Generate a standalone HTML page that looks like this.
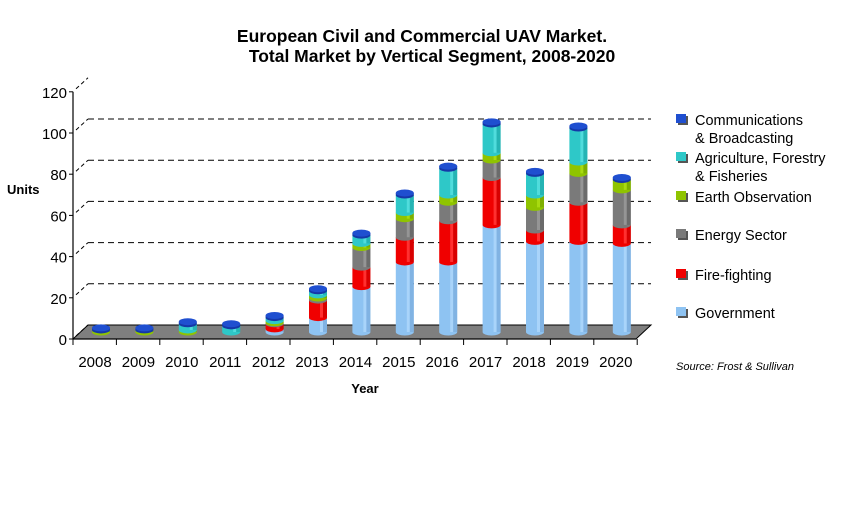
<!DOCTYPE html>
<html><head><meta charset="utf-8"><style>
html,body{margin:0;padding:0;background:#fff;}
svg{display:block;font-family:"Liberation Sans",Arial,sans-serif;}
</style></head><body>
<svg id="chart" width="865" height="527" viewBox="0 0 865 527" xmlns="http://www.w3.org/2000/svg">
<g font-weight="bold" font-size="17.5" text-anchor="middle" fill="#000">
<text x="422" y="42">European Civil and Commercial UAV Market.</text>
<text x="432" y="62">Total Market by Vertical Segment, 2008-2020</text>
</g>
<text x="7" y="194" font-size="13" font-weight="bold">Units</text>
<text x="365" y="393" font-size="13" font-weight="bold" text-anchor="middle">Year</text>
<text x="676" y="370" font-size="11" font-style="italic">Source: Frost &amp; Sullivan</text>
<g id="grid"></g>
<polygon points="73,339 636,339 651,325 88,325" fill="#7f7f7f" stroke="#000" stroke-width="1"/>
<g id="axes"></g>
<g id="bars"></g>
<g id="legend"></g>
</svg>
<script>
const categories=["2008","2009","2010","2011","2012","2013","2014","2015","2016","2017","2018","2019","2020"];
const government=[0,0,0,0,1.5,7,22,34,34,52,44,44,43];
const fireFighting=[0,0,0,0,2.5,8.5,9.5,12,20,23,5.5,19,9];
const energySector=[0,0,0,0,0.5,1,9.5,9,9,8.5,11,14,17];
const earthObservation=[1,1,1,0,1,1.5,2,3,3.5,3.5,6,5.5,5];
const agriculture=[0,0,3,3,1.5,2,4,8.5,13,14,10.5,16.5,0];
const communications=[1,1,1,1,1,1,1,1,1,1,1,1,1];
const yTicks=[0,20,40,60,80,100,120];
const seriesNames=["Government","Fire-fighting","Energy Sector","Earth Observation","Agriculture, Forestry & Fisheries","Communications & Broadcasting"];

const NS="http://www.w3.org/2000/svg";
const PX=2.06, BACK_Y0=325, MID_Y0=332, X0=101, STEP=43.4;
function yBack(v){return BACK_Y0-v*PX;}
function yFront(v){return 339-v*PX;}
function yMid(v){return MID_Y0-v*PX;}
function xC(i){return X0+i*STEP;}
function mk(tag,attrs,parent){const e=document.createElementNS(NS,tag);for(const k in attrs)e.setAttribute(k,attrs[k]);parent.appendChild(e);return e;}

const grid=document.getElementById('grid');
yTicks.forEach(t=>{
  if(t>0&&t<120){const l=mk('line',{x1:88,x2:651,y1:yBack(t),y2:yBack(t),stroke:'#000','stroke-dasharray':'6,4','stroke-width':1},grid);
  
  }
});
const axes=document.getElementById('axes');
mk('line',{x1:73,x2:73,y1:yFront(120),y2:339,stroke:'#000','stroke-width':1.2},axes);
mk('line',{x1:73,x2:636,y1:339,y2:339,stroke:'#000','stroke-width':1.2},axes);
yTicks.forEach(t=>{
  const y=yFront(t);
  mk('line',{x1:69,x2:73,y1:y,y2:y,stroke:'#000'},axes);
  mk('line',{x1:76,x2:88,y1:y-3,y2:yBack(t),stroke:'#000','stroke-dasharray':'4,3'},axes);
  const tx=mk('text',{x:67,y:y+6,'font-size':15,'text-anchor':'end'},axes);
  tx.textContent=t;
  
  
});
for(let i=0;i<=categories.length;i++){const x=73+i*STEP;mk('line',{x1:x,x2:x,y1:339,y2:345,stroke:'#000'},axes);}
categories.forEach((c,i)=>{
  const tx=mk('text',{x:95+i*STEP,y:367,'font-size':15,'text-anchor':'middle'},axes);
  tx.textContent=c;
  
  
});

const colors=[["#8ec3f2","#a9d4fa","#78a9d8"],["#f00000","#ff3030","#c80000"],["#7a7a7a","#959595","#606060"],["#8fc400","#a8da10","#72a000"],["#2ec8c8","#50dcdc","#20a6a6"],["#1f4fd0","#3a6ae8","#1538a8"]];
const seriesData=[government,fireFighting,energySector,earthObservation,agriculture,communications];
const bars=document.getElementById('bars');
const RX=9, RY=3.5;
categories.forEach((c,i)=>{
  const g=mk('g',{},bars);
  
  
  const cx=xC(i);
  let cum=0;
  for(let s=0;s<5;s++){
    const v=seriesData[s][i];
    if(v<=0)continue;
    const y0=yMid(cum), y1=yMid(cum+v);
    const col=colors[s];
    const p=mk('path',{d:`M${cx-RX},${y1} L${cx-RX},${y0} A${RX},${RY} 0 0 0 ${cx+RX},${y0} L${cx+RX},${y1} Z`,fill:col[0]},g);
    
    
    mk('rect',{x:cx+2,y:y1,width:3,height:y0-y1,fill:col[1]},g);
    mk('rect',{x:cx+5,y:y1,width:4,height:y0-y1,fill:col[2],opacity:0.6},g);
    cum+=v;
  }
  const vc=communications[i];
  const topY=yMid(cum);
  if(cum===0){mk('ellipse',{cx:cx,cy:topY,rx:RX,ry:RY,fill:colors[5][0]},g);}
  else{
    mk('path',{d:`M${cx-RX},${topY-vc*PX} L${cx-RX},${topY} A${RX},${RY} 0 0 0 ${cx+RX},${topY} L${cx+RX},${topY-vc*PX} Z`,fill:colors[5][2]},g);
  }
  const cap=mk('ellipse',{cx:cx,cy:topY-vc*PX,rx:RX,ry:RY,fill:colors[5][0]},g);
  
  
});

const legend=document.getElementById('legend');
const legendRows=[{s:5,y:120,lines:["Communications","& Broadcasting"]},{s:4,y:158,lines:["Agriculture, Forestry","& Fisheries"]},{s:3,y:197,lines:["Earth Observation"]},{s:2,y:235,lines:["Energy Sector"]},{s:1,y:275,lines:["Fire-fighting"]},{s:0,y:313,lines:["Government"]}];
legendRows.forEach(r=>{
  const g=mk('g',{},legend);
  
  
  mk('rect',{x:678,y:r.y-4,width:10,height:9,fill:'#555'},g);
  mk('rect',{x:676,y:r.y-6,width:10,height:9,fill:colors[r.s][0]},g);
  r.lines.forEach((ln,k)=>{const t=mk('text',{x:695,y:r.y+5+k*18,'font-size':14.5},g);t.textContent=ln;});
});
</script>
</body></html>
